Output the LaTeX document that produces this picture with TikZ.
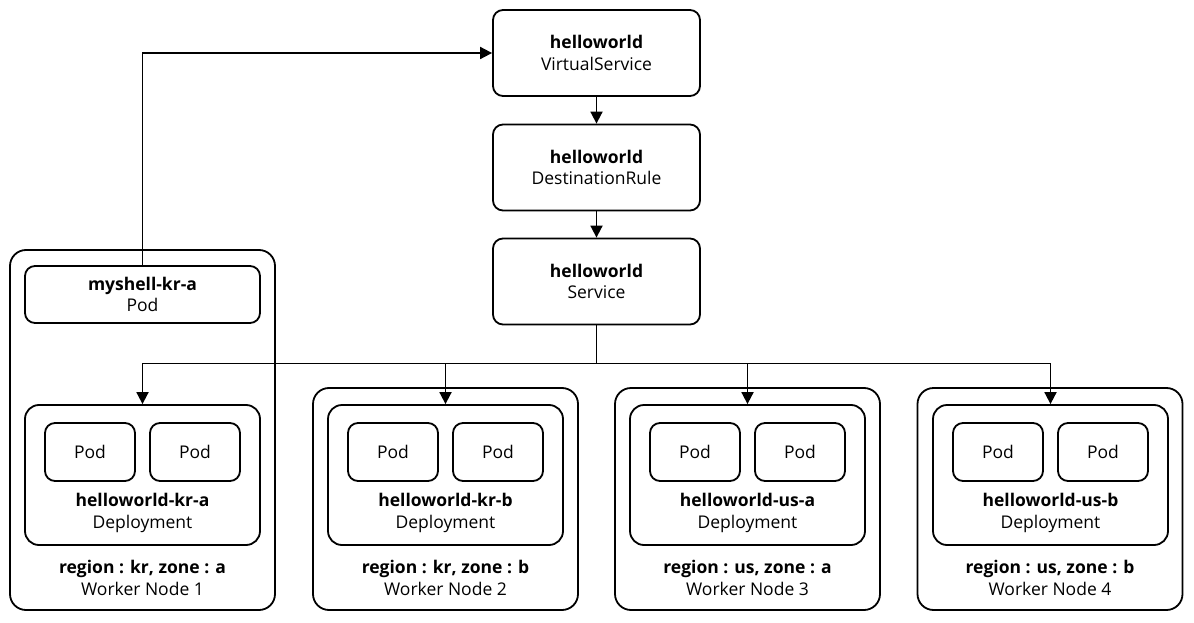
\documentclass[tikz,border=0pt]{standalone}
\usepackage{fontspec}
\setmainfont{Open Sans}
\usetikzlibrary{arrows.meta}
\tikzset{
  res/.style={draw, line width=1.8pt, rounded corners=10pt, align=center,
    minimum width=207pt, minimum height=86pt},
  worker/.style={draw, line width=1.8pt, rounded corners=16pt,
    minimum width=265pt},
  deploy/.style={draw, line width=1.8pt, rounded corners=14pt,
    minimum width=235pt, minimum height=140pt},
  pod/.style={draw, line width=1.8pt, rounded corners=10pt,
    minimum width=90pt, minimum height=58pt},
  caption/.style={align=center}
}
\begin{document}
\begin{tikzpicture}[x=1pt, y=-1pt, font=\fontsize{17.5}{21.5}\selectfont]
      \useasboundingbox (0,0) rectangle (1194,623);
      \draw
        (596.5,53) node[res] (vs){\textbf{helloworld}\\VirtualService}
        (596.5,167.5) node[res] (dr){\textbf{helloworld}\\DestinationRule}
        (596.5,281.5) node[res] (svc){\textbf{helloworld}\\Service};
      \draw
        (142.5,430) node[worker, minimum height=360pt] (wn1){}
        (445.5,499) node[worker, minimum height=222pt] (wn2){}
        (747.5,499) node[worker, minimum height=222pt] (wn3){}
        (1050,499) node[worker, minimum height=222pt] (wn4){};
      \draw
        (142.5,294.5) node[res, minimum width=235pt, minimum height=57pt] (shell){\textbf{myshell-kr-a}\\Pod}
        (142.5,475) node[deploy] (dep1){}
        (445.5,475) node[deploy] (dep2){}
        (747.5,475) node[deploy] (dep3){}
        (1050.5,475) node[deploy] (dep4){};
      \foreach \d/\n/\r/\z/\w/\k in {dep1/kr-a/kr/a/wn1/1, dep2/kr-b/kr/b/wn2/2,
                                     dep3/us-a/us/a/wn3/3, dep4/us-b/us/b/wn4/4} {
        \node[pod] (\d p1) at ([xshift=-52.5pt,yshift=23pt]\d.center) {Pod};
        \node[pod] (\d p2) at ([xshift=52.5pt,yshift=23pt]\d.center) {Pod};
        \node[caption] (\d lab) at ([yshift=33pt]\d.south) {\textbf{helloworld-\n}\\Deployment};
        \node[caption] (\w lab) at ([yshift=33pt]\w.south) {\textbf{region : \r, zone : \z}\\Worker Node \k};
      }
      \begin{scope}[line width=1.8pt, -{Triangle[length=12pt, width=12pt]}]
        \draw (vs) to (dr);
        \draw (dr) to (svc);
        \draw (shell.north) |- (vs.west);
        \draw[-] (svc.south) -- ++(0,38) coordinate (bus);
        \draw (bus) -| (dep1.north);
        \draw (bus) -| (dep2.north);
        \draw (bus) -| (dep3.north);
        \draw (bus) -| (dep4.north);
      \end{scope}
    \end{tikzpicture}
\end{document}
